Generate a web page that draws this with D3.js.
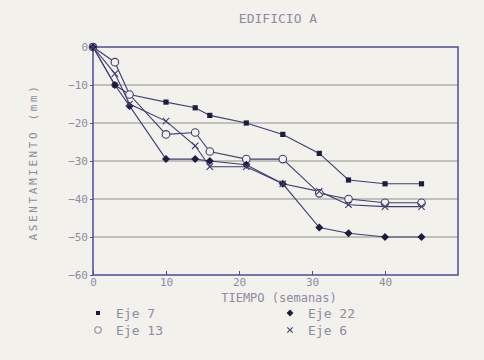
<!DOCTYPE html>
<html>
<head>
<meta charset="utf-8">
<script src="https://cdn.jsdelivr.net/npm/d3@7"></script>
<style>
  body { margin: 0; background: #f2f1eb; }
  svg text { font-family: "DejaVu Sans Mono", monospace; fill: #8e8ba3; }
</style>
</head>
<body>
<div id="chart"></div>
<script>
"use strict";

// semanas de medicion
const weeks = [0, 3, 5, 10, 14, 16, 21, 26, 31, 35, 40, 45];

// asentamientos (mm)
const eje7  = [0, -10, -12.5, -14.5, -16, -18, -20, -23, -28, -35, -36, -36];
const eje13 = [0, -4, -12.5, -23, -22.5, -27.5, -29.5, -29.5, -38.5, -40, -41, -41];
const eje22 = [0, -10, -15.5, -29.5, -29.5, -30, -31, -36, -47.5, -49, -50, -50];
const eje6  = [0, -7, -15, -19.5, -26, -31.5, -31.5, -36, -38, -41.5, -42, -42];

const xTicks = [0, 10, 20, 30, 40];
const yTicks = [0, -10, -20, -30, -40, -50, -60];
const gridLines = [-10, -20, -30, -40, -50];

const series = [
  { name: "Eje 7",  values: eje7,  marker: "square" },
  { name: "Eje 13", values: eje13, marker: "circle" },
  { name: "Eje 22", values: eje22, marker: "diamond" },
  { name: "Eje 6",  values: eje6,  marker: "cross" }
];

const width = 484, height = 360;
const margin = { top: 47, right: 26, bottom: 85, left: 93 };
const axisColor = "#4d4b98";
const lineColor = "#3f3d72";
const markColor = "#1e1c40";

const svg = d3.select("#chart").append("svg")
  .attr("width", width)
  .attr("height", height);

svg.append("rect").attr("width", width).attr("height", height).attr("fill", "#f2f1eb");

const x = d3.scaleLinear().domain([0, 50]).range([margin.left, width - margin.right]);
const y = d3.scaleLinear().domain([-60, 0]).range([height - margin.bottom, margin.top]);

// rejilla
svg.append("g").selectAll("line")
  .data(gridLines)
  .join("line")
  .attr("x1", x(0)).attr("x2", x(50))
  .attr("y1", d => y(d)).attr("y2", d => y(d))
  .attr("stroke", "#b2b0a8")
  .attr("stroke-width", 1.4);

// marco
svg.append("rect")
  .attr("x", x(0)).attr("y", y(0))
  .attr("width", x(50) - x(0)).attr("height", y(-60) - y(0))
  .attr("fill", "none")
  .attr("stroke", axisColor)
  .attr("stroke-width", 1.5);

// eje y
const yAxis = svg.append("g")
  .attr("transform", `translate(${x(0)},0)`)
  .call(d3.axisLeft(y).tickValues(yTicks).tickSize(3).tickPadding(2));
yAxis.select(".domain").remove();
yAxis.selectAll(".tick line").attr("stroke", axisColor);
yAxis.selectAll(".tick text").style("font-size", "11px").attr("fill", "#8e8ba3")
  .style("font-family", "DejaVu Sans Mono");

// eje x
const xAxis = svg.append("g")
  .attr("transform", `translate(0,${y(-60)})`)
  .call(d3.axisBottom(x).tickValues(xTicks).tickSize(-4).tickPadding(3));
xAxis.select(".domain").remove();
xAxis.selectAll(".tick line").attr("stroke", axisColor);
xAxis.selectAll(".tick text").style("font-size", "11px").attr("fill", "#8e8ba3")
  .style("font-family", "DejaVu Sans Mono");

// titulos
svg.append("text")
  .attr("x", 278).attr("y", 23)
  .attr("text-anchor", "middle")
  .style("font-size", "13px")
  .text("EDIFICIO A");

svg.append("text")
  .attr("x", 279).attr("y", 302)
  .attr("text-anchor", "middle")
  .style("font-size", "12px")
  .text("TIEMPO (semanas)");

svg.append("text")
  .attr("transform", "translate(37,162) rotate(-90)")
  .attr("text-anchor", "middle")
  .style("font-size", "11px")
  .style("letter-spacing", "2.6px")
  .text("ASENTAMIENTO (mm)");

// marcadores
function drawMarker(g, type, cx, cy, scale = 1) {
  if (type === "square") {
    g.append("rect")
      .attr("x", cx - 2.6 * scale).attr("y", cy - 2.6 * scale)
      .attr("width", 5.2 * scale).attr("height", 5.2 * scale)
      .attr("fill", markColor);
  } else if (type === "circle") {
    g.append("circle")
      .attr("cx", cx).attr("cy", cy).attr("r", 3.8 * scale)
      .attr("fill", "#f2f1eb").attr("stroke", lineColor).attr("stroke-width", 1.1);
  } else if (type === "diamond") {
    const s = 4 * scale;
    g.append("path")
      .attr("d", `M${cx},${cy - s}L${cx + s},${cy}L${cx},${cy + s}L${cx - s},${cy}Z`)
      .attr("fill", markColor);
  } else {
    const s = 3.2 * scale;
    g.append("path")
      .attr("d", `M${cx - s},${cy - s}L${cx + s},${cy + s}M${cx - s},${cy + s}L${cx + s},${cy - s}`)
      .attr("stroke", lineColor).attr("stroke-width", 1.1).attr("fill", "none");
  }
}

const line = d3.line().x(d => x(d[0])).y(d => y(d[1]));

series.forEach(s => {
  const pts = weeks.map((w, i) => [w, s.values[i]]);
  svg.append("path")
    .attr("d", line(pts))
    .attr("fill", "none")
    .attr("stroke", lineColor)
    .attr("stroke-width", 1.1);
});

series.forEach(s => {
  const g = svg.append("g");
  weeks.forEach((w, i) => drawMarker(g, s.marker, x(w), y(s.values[i])));
});

// leyenda
const legendPos = [[98, 313], [98, 330], [290, 313], [290, 330]];
series.forEach((s, i) => {
  const [lx, ly] = legendPos[i];
  const g = svg.append("g");
  if (s.marker === "square") {
    g.append("rect").attr("x", lx - 2).attr("y", ly - 2).attr("width", 4).attr("height", 4).attr("fill", markColor);
  } else if (s.marker === "circle") {
    g.append("circle").attr("cx", lx).attr("cy", ly).attr("r", 3.2)
      .attr("fill", "none").attr("stroke", "#8e8ba3").attr("stroke-width", 1.1);
  } else {
    drawMarker(g, s.marker, lx, ly, 0.85);
  }
  g.append("text")
    .attr("x", lx + 18).attr("y", ly + 5)
    .style("font-size", "13px")
    .text(s.name);
});
</script>
</body>
</html>
